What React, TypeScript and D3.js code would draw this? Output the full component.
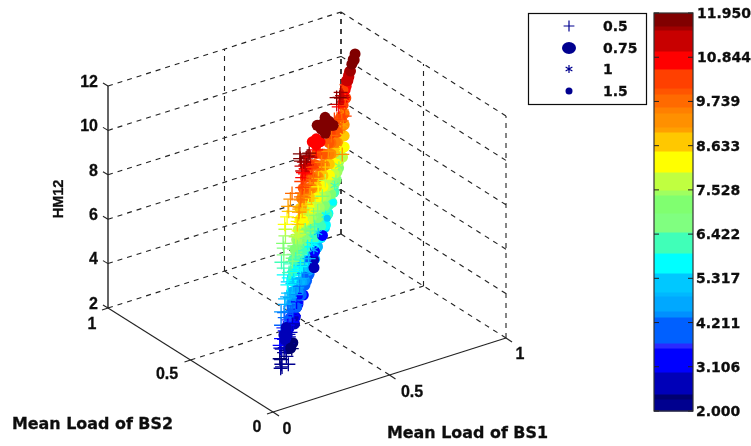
import * as d3 from 'd3';
import React from 'react';

// HM12 against the mean loads of BS1 and BS2, drawn as a fixed-view 3D scatter

// colorbar: upper edge of every band and its colour, bottom to top
const bandEdges = [2.3, 2.425, 2.975, 3.575, 3.7, 4.35, 4.5, 4.875, 4.975, 5.45, 5.95, 6.475, 6.95, 7.4, 7.525, 7.975, 8.5, 8.975, 9.1, 9.45, 9.6, 9.925, 10.075, 10.55, 11.0, 11.525, 11.625, 11.95];
const bandColors = ['#00008f', '#000070', '#0000b8', '#0000ff', '#2a2aff', '#0060ff', '#0090ff', '#00a8ff', '#00b8ff', '#00c8ff', '#00ffff', '#40ffb8', '#80ff80', '#80ff70', '#a0ff60', '#c0ff40', '#ffff00', '#ffc800', '#ffa000', '#ff9000', '#ff8000', '#ff6a00', '#ff5500', '#ff4000', '#ff0000', '#c80000', '#a00000', '#800000'];
const colorbarTicks = ['2.000', '3.106', '4.211', '5.317', '6.422', '7.528', '8.633', '9.739', '10.844', '11.950'];

const legendLabels = ['0.5', '0.75', '1', '1.5'];
const hmTicks = [2, 4, 6, 8, 10, 12];
const loadTicks = [0, 0.5, 1];

// [mean load BS1, mean load BS2, HM12]
const plusPoints = [
  [.23, .27, 2.0], [.25, .26, 2.1], [.21, .25, 2.1], [.27, .30, 2.2], [.24, .29, 2.2], [.22, .26, 2.2],
  [.26, .30, 2.4], [.22, .27, 2.4], [.30, .31, 2.4], [.25, .30, 2.6], [.29, .32, 2.6], [.23, .28, 2.8], [.33, .36, 2.8],
  [.26, .30, 3.0], [.22, .27, 3.0], [.27, .31, 3.3], [.33, .35, 3.3], [.25, .29, 3.6], [.30, .33, 3.6],
  [.27, .31, 3.9], [.36, .37, 3.9], [.26, .30, 4.2], [.31, .33, 4.2], [.27, .31, 4.5], [.38, .39, 4.5],
  [.28, .31, 4.8], [.33, .34, 4.8], [.27, .29, 5.1], [.35, .37, 5.1], [.29, .32, 5.4], [.40, .40, 5.4],
  [.28, .30, 5.7], [.34, .34, 5.7], [.28, .29, 6.0], [.42, .41, 6.0], [.29, .30, 6.3], [.36, .35, 6.3],
  [.29, .29, 6.6], [.44, .42, 6.6], [.28, .27, 6.9], [.34, .32, 6.9], [.29, .28, 7.2], [.40, .37, 7.2],
  [.28, .25, 7.5], [.36, .32, 7.5], [.29, .26, 7.8], [.44, .41, 7.8], [.28, .24, 8.1], [.34, .30, 8.1],
  [.29, .26, 8.4], [.40, .35, 8.4], [.28, .24, 8.7], [.36, .31, 8.7], [.29, .25, 9.0], [.42, .37, 9.0],
  [.27, .22, 9.3], [.34, .29, 9.3], [.29, .24, 9.6], [.44, .39, 9.6], [.28, .22, 9.9], [.36, .29, 9.9],
  [.28, .21, 10.2], [.40, .33, 10.2], [.27, .21, 10.5], [.34, .28, 10.5], [.26, .19, 10.8], [.31, .24, 10.8],
  [.26, .19, 11.1], [.30, .22, 11.1], [.25, .18, 11.4], [.28, .20, 11.4], [.24, .17, 11.7], [.27, .18, 11.7],
  [.23, .16, 11.9], [.26, .16, 11.9], [.25, .19, 11.9],
  [.66, .52, 11.5], [.69, .55, 11.3], [.64, .50, 11.7], [.67, .56, 11.0], [.63, .47, 9.3], [.69, .54, 10.5], [.72, .60, 9.9],
  [.29, .33, 2.25], [.27, .31, 2.55], [.33, .37, 2.55], [.30, .33, 2.95], [.36, .39, 2.95], [.24, .29, 3.15], [.38, .41, 3.15],
  [.29, .32, 3.45], [.42, .45, 3.45], [.24, .29, 3.75], [.34, .36, 3.75], [.29, .32, 4.05], [.44, .46, 4.05],
  [.24, .29, 4.35], [.36, .37, 4.35], [.48, .49, 4.35], [.30, .32, 4.65], [.42, .42, 4.65], [.25, .28, 4.95], [.38, .38, 4.95], [.50, .49, 4.95],
  [.31, .32, 5.25], [.44, .43, 5.25], [.26, .28, 5.55], [.38, .37, 5.55], [.52, .50, 5.55], [.31, .31, 5.85], [.46, .44, 5.85],
  [.26, .27, 6.15], [.40, .38, 6.15], [.54, .51, 6.15], [.31, .30, 6.45], [.48, .45, 6.45], [.26, .25, 6.75], [.40, .37, 6.75], [.56, .52, 6.75],
  [.31, .29, 7.05], [.50, .46, 7.05], [.26, .24, 7.35], [.38, .34, 7.35], [.58, .52, 7.35], [.31, .28, 7.65], [.50, .45, 7.65],
  [.26, .23, 7.95], [.40, .35, 7.95], [.60, .53, 7.95], [.31, .27, 8.25], [.52, .46, 8.25], [.26, .22, 8.55], [.42, .36, 8.55], [.60, .53, 8.55],
  [.31, .26, 8.85], [.50, .43, 8.85], [.26, .21, 9.15], [.40, .34, 9.15], [.62, .54, 9.15], [.31, .25, 9.45], [.52, .44, 9.45],
  [.26, .20, 9.75], [.40, .32, 9.75], [.64, .55, 9.75], [.31, .24, 10.05], [.50, .42, 10.05], [.70, .60, 10.05],
  [.26, .19, 10.35], [.38, .30, 10.35], [.66, .56, 10.35], [.30, .23, 10.65], [.44, .36, 10.65], [.70, .59, 10.65],
  [.27, .20, 10.95], [.28, .20, 11.25], [.33, .24, 11.25], [.70, .57, 11.25], [.26, .18, 11.55], [.30, .21, 11.55], [.68, .55, 11.55],
  [.29, .19, 11.8], [.62, .49, 11.8],
  [.28, .33, 5.7], [.28, .33, 6.0], [.27, .33, 6.3], [.28, .33, 6.6], [.28, .33, 6.9], [.27, .32, 7.2], [.28, .32, 7.5], [.28, .32, 7.8],
  [.27, .31, 8.1], [.28, .31, 8.4], [.28, .30, 8.7], [.27, .29, 9.0], [.28, .29, 9.3], [.28, .28, 9.6],
];

const circlePoints = [
  [.30, .33, 2.3], [.34, .36, 2.3], [.39, .42, 2.7],
  [.33, .37, 2.95], [.40, .43, 2.95], [.33, .36, 3.45], [.40, .42, 3.45], [.47, .48, 3.45],
  [.30, .33, 3.2], [.37, .39, 3.2], [.44, .47, 3.2], [.30, .32, 3.7], [.37, .38, 3.7], [.44, .45, 3.7], [.50, .52, 3.7],
  [.33, .35, 3.95], [.40, .41, 3.95], [.47, .47, 3.95], [.53, .53, 3.95],
  [.33, .34, 4.2], [.40, .40, 4.2], [.47, .46, 4.2], [.54, .55, 4.2],
  [.30, .31, 4.45], [.37, .37, 4.45], [.44, .43, 4.45], [.51, .49, 4.45], [.57, .56, 4.45],
  [.33, .33, 4.7], [.40, .39, 4.7], [.47, .45, 4.7], [.54, .51, 4.7], [.60, .58, 4.7],
  [.30, .31, 4.95], [.37, .36, 4.95], [.44, .42, 4.95], [.51, .48, 4.95], [.58, .55, 4.95], [.63, .60, 4.95],
  [.33, .33, 5.2], [.40, .39, 5.2], [.47, .45, 5.2], [.54, .51, 5.2], [.61, .58, 5.2], [.66, .62, 5.2],
  [.30, .31, 5.45], [.37, .36, 5.45], [.44, .41, 5.45], [.51, .47, 5.45], [.58, .53, 5.45], [.65, .60, 5.45], [.71, .67, 5.45],
  [.33, .33, 5.7], [.40, .38, 5.7], [.47, .44, 5.7], [.54, .50, 5.7], [.61, .56, 5.7], [.68, .63, 5.7],
  [.30, .30, 5.95], [.37, .35, 5.95], [.44, .41, 5.95], [.51, .47, 5.95], [.58, .53, 5.95], [.65, .59, 5.95], [.72, .66, 5.95],
  [.33, .33, 6.2], [.40, .38, 6.2], [.47, .44, 6.2], [.54, .50, 6.2], [.61, .56, 6.2], [.68, .62, 6.2], [.75, .69, 6.2],
  [.30, .30, 6.45], [.37, .35, 6.45], [.44, .41, 6.45], [.51, .46, 6.45], [.58, .52, 6.45], [.65, .58, 6.45], [.72, .65, 6.45],
  [.33, .31, 6.7], [.40, .37, 6.7], [.47, .43, 6.7], [.54, .49, 6.7], [.61, .55, 6.7], [.68, .61, 6.7], [.76, .69, 6.7],
  [.30, .29, 6.95], [.37, .34, 6.95], [.44, .40, 6.95], [.51, .45, 6.95], [.58, .51, 6.95], [.65, .57, 6.95], [.72, .64, 6.95],
  [.33, .30, 7.2], [.40, .36, 7.2], [.47, .42, 7.2], [.54, .48, 7.2], [.61, .54, 7.2], [.68, .60, 7.2], [.77, .69, 7.2],
  [.30, .28, 7.45], [.37, .33, 7.45], [.44, .39, 7.45], [.51, .44, 7.45], [.58, .50, 7.45], [.65, .56, 7.45], [.72, .63, 7.45],
  [.33, .29, 7.7], [.40, .35, 7.7], [.47, .41, 7.7], [.54, .47, 7.7], [.61, .53, 7.7], [.68, .59, 7.7], [.78, .68, 7.7],
  [.30, .27, 7.95], [.37, .32, 7.95], [.44, .38, 7.95], [.51, .44, 7.95], [.58, .49, 7.95], [.65, .55, 7.95], [.72, .62, 7.95],
  [.33, .28, 8.2], [.40, .34, 8.2], [.47, .40, 8.2], [.54, .46, 8.2], [.61, .52, 8.2], [.68, .58, 8.2], [.78, .67, 8.2],
  [.30, .26, 8.45], [.37, .31, 8.45], [.44, .37, 8.45], [.51, .43, 8.45], [.58, .49, 8.45], [.65, .55, 8.45], [.72, .62, 8.45],
  [.33, .28, 8.7], [.40, .34, 8.7], [.47, .40, 8.7], [.54, .46, 8.7], [.61, .52, 8.7], [.68, .58, 8.7], [.78, .67, 8.7],
  [.30, .26, 8.95], [.37, .31, 8.95], [.44, .37, 8.95], [.51, .43, 8.95], [.58, .49, 8.95], [.65, .55, 8.95], [.72, .62, 8.95],
  [.33, .27, 9.2], [.40, .33, 9.2], [.47, .39, 9.2], [.54, .45, 9.2], [.61, .51, 9.2], [.68, .57, 9.2], [.78, .67, 9.2],
  [.30, .25, 9.45], [.37, .30, 9.45], [.44, .36, 9.45], [.51, .42, 9.45], [.58, .48, 9.45], [.65, .54, 9.45], [.72, .61, 9.45],
  [.33, .27, 9.7], [.40, .33, 9.7], [.47, .39, 9.7], [.54, .45, 9.7], [.61, .51, 9.7], [.68, .57, 9.7], [.78, .67, 9.7],
  [.30, .24, 9.95], [.37, .30, 9.95], [.44, .37, 9.95], [.51, .42, 9.95], [.58, .48, 9.95], [.65, .53, 9.95], [.72, .60, 9.95],
  [.33, .27, 10.2], [.40, .33, 10.2], [.47, .40, 10.2], [.60, .50, 10.2], [.70, .58, 10.2], [.80, .70, 10.2],
  [.33, .26, 10.7], [.74, .62, 10.45], [.78, .66, 10.45], [.75, .63, 10.7], [.81, .70, 10.7], [.77, .65, 10.9],
  [.70, .74, 2.7], [.72, .77, 2.85], [.745, .80, 3.0], [.80, .83, 3.4],
];

// circles that sit in front of the plus marks
const frontCircles = [
  [.472, .405, 10.7], [.483, .397, 10.7], [.461, .413, 10.7], [.486, .424, 10.7], [.458, .386, 10.7],
  [.452, .322, 11.9], [.469, .31, 11.9], [.435, .334, 11.9], [.479, .36, 11.9], [.425, .284, 11.9], [.481, .339, 11.9], [.423, .305, 11.9],
  [.475, .306, 11.9], [.429, .338, 11.9], [.488, .373, 11.9], [.416, .271, 11.9],
  [.81, .69, 11.0], [.82, .70, 11.15], [.79, .67, 11.15], [.80, .67, 11.3], [.81, .68, 11.45], [.80, .66, 11.6], [.82, .68, 11.75], [.84, .70, 11.8], [.855, .71, 11.95], [.83, .68, 11.9],
  [.315, .37, 2.7], [.33, .40, 2.5], [.30, .34, 2.9], [.30, .35, 2.6], [.33, .38, 2.6], [.31, .33, 2.3], [.34, .40, 2.8],
];

const starPoints = [
  [.60, .60, 4.5], [.64, .63, 5.0], [.69, .655, 5.5], [.80, .756, 6.0], [.78, .72, 6.5], [.80, .73, 7.0],
  [.80, .72, 7.5], [.79, .69, 8.0], [.80, .70, 8.5], [.80, .70, 9.0], [.81, .71, 9.5], [.82, .72, 10.0], [.82, .73, 10.5],
];

const dotPoints = [
  [.52, .54, 3.9], [.46, .49, 3.4], [.40, .43, 2.9], [.56, .58, 4.3], [.74, .68, 5.8], [.70, .66, 5.3], [.83, .736, 10.3], [.81, .694, 10.9],
];

const project = (() => {
  // corner positions of the box in the figure
  const xAlong = d3.scaleLinear().domain([0, 1]).range([0, 233]);
  const xUp = d3.scaleLinear().domain([0, 1]).range([0, -74]);
  const yAlong = d3.scaleLinear().domain([0, 1]).range([0, -165]);
  const yUp = d3.scaleLinear().domain([0, 1]).range([0, -104]);
  const zUp = d3.scaleLinear().domain([2, 12]).range([0, -222]);
  return (a: number, b: number, z: number): [number, number] => [
    273 + xAlong(a) + yAlong(b),
    412 + xUp(a) + yUp(b) + zUp(z),
  ];
})();

const bandColor = d3.scaleThreshold<number, string>().domain(bandEdges.slice(0, -1)).range(bandColors);
const barY = d3.scaleLinear().domain([2, 11.95]).range([411, 13]);
const barTickY = d3.scaleLinear().domain([0, colorbarTicks.length - 1]).range([411, 13]);

const plusPath = d3.symbol().type(d3.symbolPlus).size(66)() as string;
const starPath = d3.symbol().type(d3.symbolAsterisk).size(60)() as string;
const legendPlus = d3.symbol().type(d3.symbolPlus).size(40)() as string;
const legendStar = d3.symbol().type(d3.symbolAsterisk).size(42)() as string;

const NAVY = '#00008f';
const BOLD = '"DejaVu Sans", sans-serif';
const NARROW = '"Liberation Sans", sans-serif';

function seg(p: [number, number], q: [number, number], key: string, dash: boolean, width = 1.1) {
  return (
    <line key={key} x1={p[0]} y1={p[1]} x2={q[0]} y2={q[1]} stroke="#222" strokeWidth={width}
      strokeDasharray={dash ? '5 5' : undefined} />
  );
}

export default function App() {
  const grid: React.ReactNode[] = [];
  hmTicks.forEach(z => {
    grid.push(seg(project(0, 1, z), project(1, 1, z), `hb${z}`, true));
    grid.push(seg(project(1, 1, z), project(1, 0, z), `hr${z}`, true));
  });
  grid.push(seg(project(0.5, 1, 2), project(0.5, 1, 12), 'vb', true));
  grid.push(seg(project(1, 1, 2), project(1, 1, 12), 'vc', true, 1.7));
  loadTicks.slice(0, 2).forEach(t => {
    grid.push(seg(project(1, t, 2), project(1, t, 12), `vr${t}`, true));
  });
  grid.push(seg(project(0.5, 0, 2), project(0.5, 1, 2), 'fx', true));
  grid.push(seg(project(0, 0.5, 2), project(1, 0.5, 2), 'fy', true));

  const frame = [
    seg(project(0, 0, 2), project(1, 0, 2), 'e1', false),
    seg(project(0, 0, 2), project(0, 1, 2), 'e2', false),
    seg(project(0, 1, 2), project(0, 1, 12), 'e3', false, 1.4),
  ];
  const ticks: React.ReactNode[] = [];
  loadTicks.forEach(t => {
    const p = project(t, 0, 2);
    ticks.push(seg(p, [p[0] + 6, p[1] + 4], `tx${t}`, false));
    const q = project(0, t, 2);
    ticks.push(seg(q, [q[0] - 6, q[1] + 2], `ty${t}`, false));
  });
  hmTicks.forEach(z => {
    const p = project(0, 1, z);
    ticks.push(seg(p, [p[0] - 5, p[1] - 3], `tz${z}`, false));
  });

  const at = (d: number[]) => {
    const [x, y] = project(d[0], d[1], d[2]);
    return `translate(${x},${y})`;
  };
  const axisText = { fontFamily: BOLD, fontWeight: 700, fontSize: 14, fill: '#111', stroke: '#111', strokeWidth: 0.3 } as const;
  const tickText = { fontFamily: NARROW, fontWeight: 700, fontSize: 16, fill: '#111', stroke: '#111', strokeWidth: 0.3 } as const;

  return (
    <svg width={751} height={446} style={{ position: 'fixed', left: 0, top: 0, display: 'block', background: '#fff' }}>
      <defs>
        <filter id="soft" x="0" y="0" width="100%" height="100%">
          <feGaussianBlur stdDeviation="0.5" />
        </filter>
      </defs>
      <g filter="url(#soft)">
        <g>{grid}</g>
        <g>{frame}{ticks}</g>

        <g>
          {circlePoints.map((d, i) => <circle key={i} transform={at(d)} r={5.5} fill={bandColor(d[2])} />)}
          {starPoints.map((d, i) => <path key={i} transform={at(d)} d={starPath} fill="none" stroke={bandColor(d[2])} strokeWidth={1.2} />)}
          {dotPoints.map((d, i) => <circle key={i} transform={at(d)} r={3.5} fill={bandColor(d[2])} />)}
          {plusPoints.map((d, i) => <path key={i} transform={at(d)} d={plusPath} fill="none" stroke={bandColor(d[2])} strokeWidth={1.3} />)}
          {frontCircles.map((d, i) => <circle key={i} transform={at(d)} r={5.5} fill={bandColor(d[2])} />)}
        </g>

        {hmTicks.map(z => (
          <text key={z} x={98} y={project(0, 1, z)[1] - 5} dy="0.36em" textAnchor="end" {...tickText}>{z}</text>
        ))}
        <text transform="translate(58,199) rotate(-90)" textAnchor="middle" dy="0.36em" {...tickText} fontSize={14.5}>HM12</text>

        <text x={287} y={428} textAnchor="middle" dy="0.36em" {...tickText}>0</text>
        <text x={412} y={391} textAnchor="middle" dy="0.36em" {...tickText}>0.5</text>
        <text x={520} y={353} textAnchor="middle" dy="0.36em" {...tickText}>1</text>
        <text x={257} y={426} textAnchor="middle" dy="0.36em" {...tickText}>0</text>
        <text x={167} y={373} textAnchor="middle" dy="0.36em" {...tickText}>0.5</text>
        <text x={92} y={323} textAnchor="middle" dy="0.36em" {...tickText}>1</text>

        <text x={12} y={424} dy="0.36em" textLength={161} lengthAdjust="spacingAndGlyphs" {...axisText} fontSize={15}>Mean Load of BS2</text>
        <text x={387} y={433} dy="0.36em" textLength={161} lengthAdjust="spacingAndGlyphs" {...axisText} fontSize={15}>Mean Load of BS1</text>

        <rect x={528.5} y={13.5} width={118} height={91} fill="#fff" stroke="#111" strokeWidth={1.2} />
        <path transform="translate(569,26)" d={legendPlus} fill="none" stroke={NAVY} strokeWidth={1.2} />
        <ellipse cx={569} cy={48} rx={7} ry={6} fill={NAVY} />
        <path transform="translate(569,69)" d={legendStar} fill="none" stroke={NAVY} strokeWidth={1.2} />
        <circle cx={569} cy={91} r={3.5} fill={NAVY} />
        {legendLabels.map((l, i) => (
          <text key={l} x={603} y={26 + i * 21.7} dy="0.36em" {...axisText}>{l}</text>
        ))}

        {bandEdges.map((top, i) => {
          const bottom = i === 0 ? 2 : bandEdges[i - 1];
          return (
            <rect key={top} x={654} width={39} y={barY(top)} height={barY(bottom) - barY(top) + 0.5} fill={bandColors[i]} />
          );
        })}
        <rect x={654} y={13} width={39} height={398} fill="none" stroke="#333" strokeWidth={1.2} />
        {colorbarTicks.map((t, i) => (
          <g key={t}>
            <line x1={654} x2={659} y1={barTickY(i)} y2={barTickY(i)} stroke="#222" />
            <line x1={688} x2={693} y1={barTickY(i)} y2={barTickY(i)} stroke="#222" />
            <text x={t.length > 5 ? 697 : 696} y={barTickY(i)} dy="0.36em" {...axisText}>{t}</text>
          </g>
        ))}
      </g>
    </svg>
  );
}
